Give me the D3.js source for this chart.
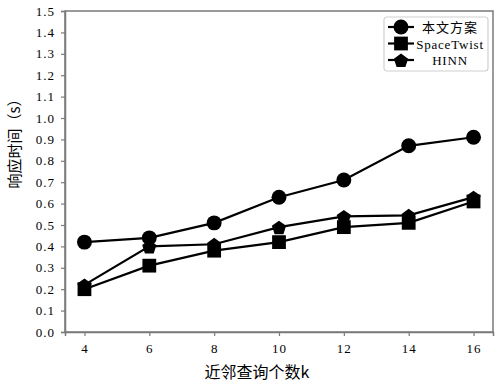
<!DOCTYPE html>
<html>
<head>
<meta charset="utf-8">
<script src="https://cdn.jsdelivr.net/npm/d3@7"></script>
<style>
    body { margin: 0; background: #fff; }
    svg { display: block; }
    .tick text { font-family: "Liberation Serif", serif; font-size: 13px; letter-spacing: 1px; fill: #000; }
</style>
</head>
<body>
<svg id="chart"></svg>
<script>
// chart data
const kValues = [4, 6, 8, 10, 12, 14, 16];
const oursTime = [0.42, 0.44, 0.51, 0.63, 0.71, 0.87, 0.91];
const spaceTwistTime = [0.20, 0.31, 0.38, 0.42, 0.49, 0.51, 0.61];
const hinnTime = [0.22, 0.40, 0.41, 0.49, 0.54, 0.545, 0.63];
const seriesNames = ["本文方案", "SpaceTwist", "HINN"];
const yTicks = d3.range(0, 16).map(i => i / 10);

const width = 500, height = 389;
const margin = {top: 11, right: 7, bottom: 57, left: 65};

const svg = d3.select("#chart").attr("width", width).attr("height", height);

const x = d3.scaleLinear().domain([3.4, 16.6]).range([margin.left, width - margin.right]);
const y = d3.scaleLinear().domain([0, 1.5]).range([height - margin.bottom, margin.top]);

const series = [
    {name: seriesNames[0], values: oursTime, shape: "circle"},
    {name: seriesNames[1], values: spaceTwistTime, shape: "square"},
    {name: seriesNames[2], values: hinnTime, shape: "pentagon"}
];

const symbolFor = {
    circle: d3.symbol().type(d3.symbolCircle).size(175),
    square: d3.symbol().type(d3.symbolSquare).size(190),
    pentagon: () => {
        // house-like pentagon marker
        const r = 7.5;
        return d3.range(5).map(i => {
            const a = -Math.PI / 2 + i * 2 * Math.PI / 5;
            return (i ? "L" : "M") + (r * Math.cos(a)).toFixed(2) + "," + (r * Math.sin(a) + 1).toFixed(2);
        }).join("") + "Z";
    }
};

// plot frame
svg.append("rect")
    .attr("x", margin.left).attr("y", margin.top)
    .attr("width", width - margin.right - margin.left)
    .attr("height", height - margin.bottom - margin.top)
    .attr("fill", "none").attr("stroke", "#7a7a7a").attr("stroke-width", 1.5);

const xAxis = svg.append("g")
    .attr("transform", `translate(0,${height - margin.bottom})`)
    .call(d3.axisBottom(x).tickValues(kValues).tickSize(4).tickPadding(8));
const yAxis = svg.append("g")
    .attr("transform", `translate(${margin.left},0)`)
    .call(d3.axisLeft(y).tickValues(yTicks).tickFormat(d3.format(".1f")).tickSize(4).tickPadding(6));

[xAxis, yAxis].forEach(ax => {
    ax.select(".domain").attr("stroke", "#7a7a7a").attr("stroke-width", 1.5);
    ax.selectAll(".tick line").attr("stroke", "#7a7a7a").attr("stroke-width", 1.2);
});

// axis titles
svg.append("text")
    .attr("x", 257).attr("y", 378)
    .attr("text-anchor", "middle")
    .style("font", "16px 'Noto Sans CJK SC', sans-serif")
    .text("近邻查询个数k");

svg.append("text")
    .attr("transform", "translate(20,140) rotate(-90)")
    .attr("text-anchor", "middle")
    .style("font", "15px 'Noto Sans CJK SC', sans-serif")
    .text("响应时间（s）");

// lines and markers
const line = d3.line().x((d, i) => x(kValues[i])).y(d => y(d));

series.forEach(s => {
    svg.append("path")
        .attr("d", line(s.values))
        .attr("fill", "none").attr("stroke", "#000").attr("stroke-width", 2.2);

    svg.append("g")
        .selectAll("path")
        .data(s.values)
        .join("path")
        .attr("transform", (d, i) => `translate(${x(kValues[i])},${y(d)})`)
        .attr("d", symbolFor[s.shape])
        .attr("fill", "#000");
});

// legend
const legend = svg.append("g").attr("transform", "translate(384,17)");
legend.append("rect")
    .attr("width", 104).attr("height", 54).attr("rx", 3)
    .attr("fill", "#fff").attr("stroke", "#d0d0d0").attr("stroke-width", 1.2);

series.forEach((s, i) => {
    const row = legend.append("g").attr("transform", `translate(0,${10 + i * 16.5})`);
    row.append("line")
        .attr("x1", 4).attr("x2", 30)
        .attr("stroke", "#000").attr("stroke-width", 2.2);
    row.append("path")
        .attr("transform", "translate(17,0)")
        .attr("d", symbolFor[s.shape])
        .attr("fill", "#000");
    row.append("text")
        .attr("x", 66).attr("y", 5)
        .attr("text-anchor", "middle")
        .style("font", i === 0 ? "13px 'Noto Sans CJK SC', sans-serif" : "normal 13px 'Liberation Serif', serif")
        .style("letter-spacing", i === 0 ? "1px" : "0.8px")
        .text(s.name);
});
</script>
</body>
</html>
